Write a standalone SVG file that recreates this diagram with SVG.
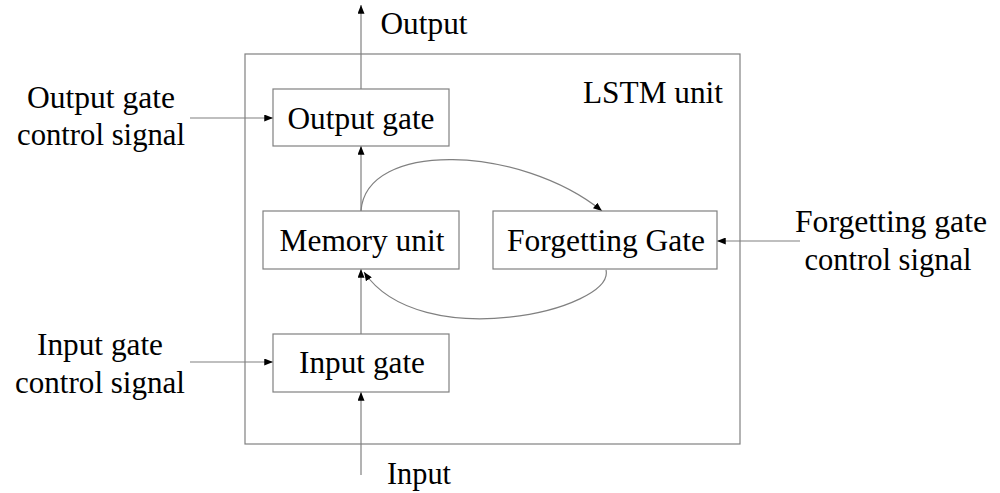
<svg xmlns="http://www.w3.org/2000/svg" width="1000" height="493" viewBox="0 0 1000 493">
  <style>
    .box { fill: #ffffff; stroke: #808080; stroke-width: 1.2; }
    .frame { fill: none; stroke: #808080; stroke-width: 1.2; }
    .wire { fill: none; stroke: #808080; stroke-width: 1.2; }
    .lbl { font-family: "Liberation Serif", "Times New Roman", serif; font-size: 32px; fill: #000000; text-anchor: middle; }
  </style>
  <defs>
    <marker id="arrow" viewBox="0 0 10 8" refX="10" refY="4" markerWidth="9" markerHeight="7" markerUnits="userSpaceOnUse" orient="auto">
      <path d="M0,0 L10,4 L0,8 Z" fill="#000000"/>
    </marker>
  </defs>
  <rect width="1000" height="493" fill="#ffffff"/>

  <!-- LSTM unit frame -->
  <g id="lstm-unit">
    <rect class="frame" x="245" y="54" width="495" height="390"/>
    <text class="lbl" x="653" y="103" textLength="140" lengthAdjust="spacingAndGlyphs">LSTM unit</text>
  </g>

  <!-- connectors -->
  <g id="connectors">
    <line class="wire" x1="361" y1="89" x2="361" y2="5" marker-end="url(#arrow)"/>
    <line class="wire" x1="361" y1="211" x2="361" y2="146" marker-end="url(#arrow)"/>
    <line class="wire" x1="361" y1="334" x2="361" y2="269" marker-end="url(#arrow)"/>
    <line class="wire" x1="361" y1="475" x2="361" y2="392" marker-end="url(#arrow)"/>
    <line class="wire" x1="190" y1="118" x2="273" y2="118" marker-end="url(#arrow)"/>
    <line class="wire" x1="190" y1="362" x2="273" y2="362" marker-end="url(#arrow)"/>
    <line class="wire" x1="800" y1="241" x2="717" y2="241" marker-end="url(#arrow)"/>
    <path class="wire" d="M361,211 C366,140 520,145 602,211" marker-end="url(#arrow)"/>
    <path class="wire" d="M606,270 C615,310 420,355 364,272" marker-end="url(#arrow)"/>
  </g>

  <g id="output-gate">
    <rect class="box" x="273" y="89" width="176" height="57"/>
    <text class="lbl" x="361" y="129" textLength="147" lengthAdjust="spacingAndGlyphs">Output gate</text>
  </g>
  <g id="memory-unit">
    <rect class="box" x="263" y="211" width="196" height="58"/>
    <text class="lbl" x="362" y="251" textLength="165" lengthAdjust="spacingAndGlyphs">Memory unit</text>
  </g>
  <g id="forgetting-gate">
    <rect class="box" x="493" y="211" width="224" height="58"/>
    <text class="lbl" x="606" y="251" textLength="198" lengthAdjust="spacingAndGlyphs">Forgetting Gate</text>
  </g>
  <g id="input-gate">
    <rect class="box" x="273" y="334" width="176" height="58"/>
    <text class="lbl" x="362" y="373" textLength="126" lengthAdjust="spacingAndGlyphs">Input gate</text>
  </g>

  <g id="output-label">
    <text class="lbl" x="424" y="34" textLength="87" lengthAdjust="spacingAndGlyphs">Output</text>
  </g>
  <g id="input-label">
    <text class="lbl" x="419" y="484" textLength="64" lengthAdjust="spacingAndGlyphs">Input</text>
  </g>
  <g id="output-gate-control">
    <text class="lbl" x="101" y="108" textLength="148" lengthAdjust="spacingAndGlyphs">Output gate</text>
    <text class="lbl" x="101" y="145" textLength="168" lengthAdjust="spacingAndGlyphs">control signal</text>
  </g>
  <g id="input-gate-control">
    <text class="lbl" x="100" y="355" textLength="126" lengthAdjust="spacingAndGlyphs">Input gate</text>
    <text class="lbl" x="100" y="393" textLength="170" lengthAdjust="spacingAndGlyphs">control signal</text>
  </g>
  <g id="forgetting-gate-control">
    <text class="lbl" x="891" y="232" textLength="192" lengthAdjust="spacingAndGlyphs">Forgetting gate</text>
    <text class="lbl" x="888" y="270" textLength="167" lengthAdjust="spacingAndGlyphs">control signal</text>
  </g>
</svg>
